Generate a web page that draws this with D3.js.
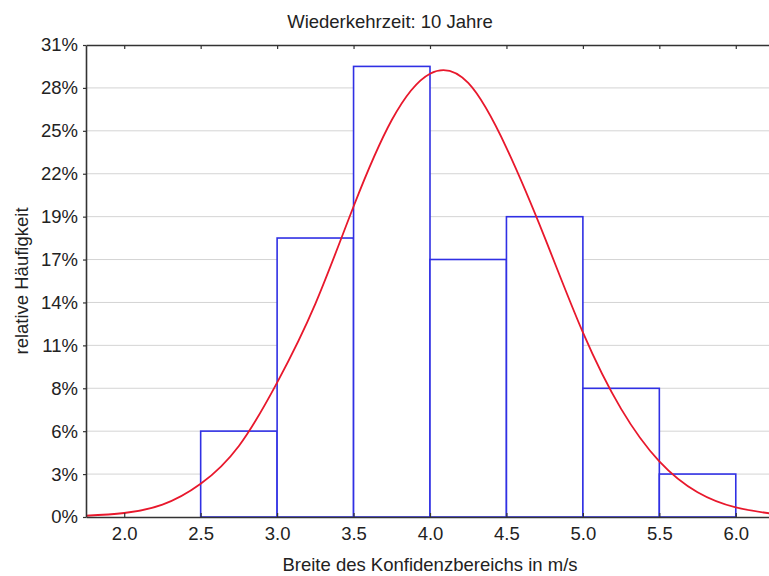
<!DOCTYPE html>
<html>
<head>
<meta charset="utf-8">
<script src="https://cdn.jsdelivr.net/npm/d3@7"></script>
<style>
  body { margin: 0; background: #fff; }
  text { font-family: "Liberation Sans", Arial, sans-serif; fill: #222; }
</style>
</head>
<body>
<div id="chart-area"></div>
<script>
// histogram bins (m/s) and relative frequency in %
var binLo = [2.5, 3.0, 3.5, 4.0, 4.5, 5.0, 5.5];
var binHi = [3.0, 3.5, 4.0, 4.5, 5.0, 5.5, 6.0];
var freq = [5.56, 18.06, 29.17, 16.67, 19.44, 8.33, 2.78];

// fitted curve, points (every 0.25 m/s)
var curveX = [1.75, 2.0, 2.25, 2.5, 2.75, 3.0, 3.25, 3.5, 3.75, 4.0, 4.25, 4.5, 4.75, 5.0, 5.25, 5.5, 5.75, 6.0, 6.25];
var curveY = [0.08, 0.26, 0.8, 2.15, 4.6, 8.7, 13.8, 20.1, 25.7, 28.7, 28.1, 23.9, 18.1, 11.95, 7.0, 3.6, 1.6, 0.62, 0.2];

// axis ticks
var xTicks = [2.0, 2.5, 3.0, 3.5, 4.0, 4.5, 5.0, 5.5, 6.0];
var yTicks = [0, 2.778, 5.556, 8.333, 11.111, 13.889, 16.667, 19.444, 22.222, 25, 27.778, 30.556];
var yTickLabels = ["0%", "3%", "6%", "8%", "11%", "14%", "17%", "19%", "22%", "25%", "28%", "31%"];

var W = 769, H = 576;
var margin = { left: 86, right: -5, top: 45, bottom: 59 };
var width = W - margin.left - margin.right,
  height = H - margin.top - margin.bottom;

var svg = d3.select("#chart-area").append("svg")
  .attr("width", W).attr("height", H);

var g = svg.append("g")
  .attr("transform", "translate(" + margin.left + "," + margin.top + ")");

var x = d3.scaleLinear().domain([1.75, 6.25]).range([0, width]);
var y = d3.scaleLinear().domain([0, 30.556]).range([height, 0]);

// gridlines
g.selectAll(".grid").data(yTicks.slice(1, -1)).enter()
  .append("line")
  .attr("x1", 0).attr("x2", width)
  .attr("y1", function(d) { return y(d); })
  .attr("y2", function(d) { return y(d); })
  .attr("stroke", "#d4d4d4").attr("stroke-width", 1);

// bars
g.selectAll("rect.bar").data(freq).enter()
  .append("rect")
  .attr("class", "bar")
  .attr("x", function(d, i) { return x(binLo[i]); })
  .attr("width", function(d, i) { return x(binHi[i]) - x(binLo[i]); })
  .attr("y", function(d) { return y(d); })
  .attr("height", function(d) { return height - y(d); })
  .attr("fill", "#fff")
  .attr("stroke", "#3030e4")
  .attr("stroke-width", 1.6);

// red curve
var line = d3.line()
  .x(function(d, i) { return x(curveX[i]); })
  .y(function(d) { return y(d); })
  .curve(d3.curveNatural);

g.append("path")
  .datum(curveY)
  .attr("d", line)
  .attr("fill", "none")
  .attr("stroke", "#e8182c")
  .attr("stroke-width", 1.8);

// axes
var xAxis = d3.axisBottom(x).tickValues(xTicks)
  .tickFormat(d3.format(".1f")).tickSizeInner(-4).tickSizeOuter(0).tickPadding(10);
var xAxisTop = d3.axisTop(x).tickValues(xTicks)
  .tickFormat("").tickSizeInner(-4).tickSizeOuter(0);
var yAxis = d3.axisLeft(y).tickValues(yTicks)
  .tickFormat(function(d, i) { return yTickLabels[i]; })
  .tickSizeInner(3).tickSizeOuter(0).tickPadding(5);

var xg = g.append("g").attr("transform", "translate(0," + height + ")").call(xAxis);
var xt = g.append("g").call(xAxisTop);
var yg = g.append("g").call(yAxis);

[xg, xt, yg].forEach(function(a) {
  a.select(".domain").attr("stroke", "#333").attr("stroke-width", 1.6);
  a.selectAll(".tick line").attr("stroke", "#333").attr("stroke-width", 1.2);
  a.selectAll(".tick text")
    .attr("font-family", "Liberation Sans, Arial, sans-serif")
    .attr("font-size", "18.5px").attr("fill", "#222");
});

// titles
svg.append("text")
  .attr("x", 390).attr("y", 28)
  .attr("text-anchor", "middle")
  .attr("font-size", "18.5px")
  .text("Wiederkehrzeit: 10 Jahre");

svg.append("text")
  .attr("x", 430).attr("y", 571)
  .attr("text-anchor", "middle")
  .attr("font-size", "18.5px")
  .text("Breite des Konfidenzbereichs in m/s");

svg.append("text")
  .attr("transform", "translate(28," + 281 + ") rotate(-90)")
  .attr("text-anchor", "middle")
  .attr("font-size", "18.5px")
  .text("relative Häufigkeit");
</script>
</body>
</html>
